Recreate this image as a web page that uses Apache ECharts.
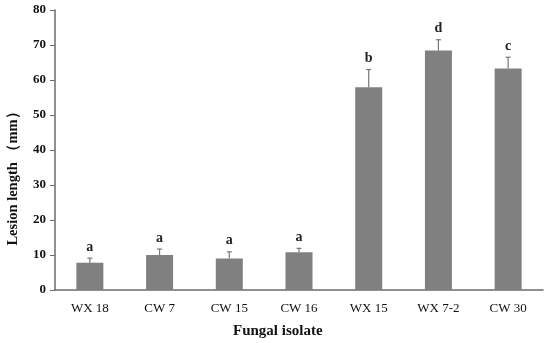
<!DOCTYPE html>
<html><head><meta charset="utf-8">
<script src="https://cdn.jsdelivr.net/npm/echarts@6/dist/echarts.min.js"></script>
<style>html,body{margin:0;padding:0;background:#fff}#c{width:550px;height:343px}</style>
</head><body><div id="c"></div>
<script>
const categories = ['WX 18','CW 7','CW 15','CW 16','WX 15','WX 7-2','CW 30'];
const means = [7.8, 10.0, 9.0, 10.8, 57.9, 68.4, 63.3];
const errTops = [9.1, 11.7, 10.9, 11.9, 63.0, 71.5, 66.5];
const letters = ['a','a','a','a','b','d','c'];
const yTicks = [0,10,20,30,40,50,60,70,80];
const xTitle = 'Fungal isolate';
const yTitle = 'Lesion length （mm）';

const serif = '"Liberation Serif","Times New Roman",serif';
const chart = echarts.init(document.getElementById('c'));
chart.setOption({
  animation:false,
  grid:{left:55,right:7,top:10,bottom:53},
  graphic:[
    {type:'text',left:233,top:324,style:{text:xTitle,font:'bold 15px '+serif,fill:'#111'}},
    {type:'text',x:13,y:175,rotation:Math.PI/2,style:{text:yTitle,font:'bold 14.5px '+serif,fill:'#111',textAlign:'center',textVerticalAlign:'middle'}}
  ],
  xAxis:{type:'category',data:categories,
    axisLine:{lineStyle:{color:'#6b6b6b',width:1.5}},
    axisTick:{show:false},
    axisLabel:{color:'#111',fontFamily:serif,fontSize:13,margin:12}},
  yAxis:{type:'value',min:0,max:80,interval:10,
    axisLine:{show:true,lineStyle:{color:'#6b6b6b',width:1.5}},
    axisTick:{show:true,length:5,lineStyle:{color:'#6b6b6b'}},
    splitLine:{show:false},
    axisLabel:{color:'#111',fontFamily:serif,fontSize:13,fontWeight:'bold',margin:9,
      formatter:v=>yTicks.includes(v)?String(v):''}},
  series:[
    {type:'bar',data:means,barWidth:27,itemStyle:{color:'#808080'}},
    {type:'custom',data:categories.map((c,i)=>[i,means[i],errTops[i]]),z:5,
      renderItem:function(params,api){
        const x=api.coord([api.value(0),0])[0];
        const pb=api.coord([api.value(0),api.value(1)]);
        const pt=api.coord([api.value(0),api.value(2)]);
        const i=params.dataIndex;
        return {type:'group',children:[
          {type:'line',shape:{x1:x,y1:pb[1],x2:x,y2:pt[1]},style:{stroke:'#777',lineWidth:1.2}},
          {type:'line',shape:{x1:x-2.5,y1:pt[1],x2:x+2.5,y2:pt[1]},style:{stroke:'#777',lineWidth:1.2}},
          {type:'text',x:x,y:pt[1]-4,style:{text:letters[i],textAlign:'center',textVerticalAlign:'bottom',
            font:'bold 14px '+serif,fill:'#222'}}
        ]};
      }}
  ]
});
</script></body></html>
